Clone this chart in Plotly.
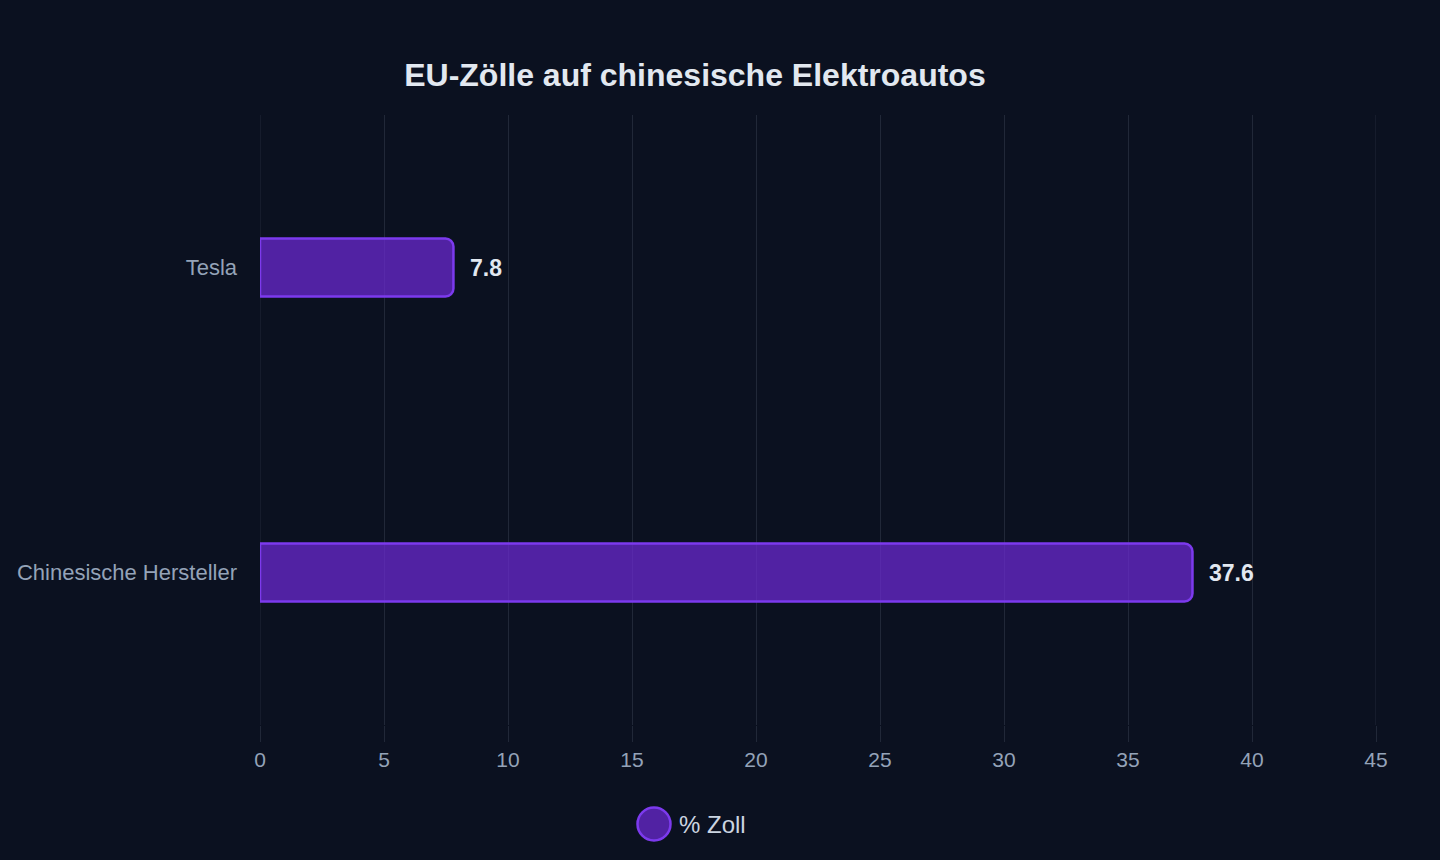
import plotly.graph_objects as go

categories = ["Chinesische Hersteller", "Tesla"]
values = [37.6, 7.8]
series_name = "% Zoll"
title_text = "EU-Zölle auf chinesische Elektroautos"
x_ticks = [0, 5, 10, 15, 20, 25, 30, 35, 40, 45]

BG = "#0b1120"
GRID = "rgba(148,163,184,0.16)"
FILL = "rgba(108,42,214,0.72)"
EDGE = "#7c3aed"
FONT = "Liberation Sans, Arial, sans-serif"

fig = go.Figure()
fig.add_trace(go.Bar(
    y=categories, x=values, orientation="h", name=series_name,
    width=0.19,
    marker=dict(color=FILL, line=dict(color=EDGE, width=2.5), cornerradius=8),
    showlegend=False, hoverinfo="x+y",
))

for c, v in zip(categories, values):
    fig.add_annotation(x=v, y=c, xref="x", yref="y", text=f"<b>{v}</b>",
                       xanchor="left", yanchor="middle", xshift=15,
                       showarrow=False,
                       font=dict(family=FONT, size=23, color="#e2e8f0"))

# grid lines at the range ends (plotly omits them at the plot edges)
for t in (x_ticks[0], x_ticks[-1]):
    fig.add_shape(type="line", xref="x", yref="paper", x0=t, x1=t, y0=0, y1=1,
                  line=dict(color=GRID, width=1), layer="below")

fig.update_layout(
    width=1440, height=860,
    paper_bgcolor=BG, plot_bgcolor=BG,
    margin=dict(l=260, r=64, t=115, b=135),
    font=dict(family=FONT, color="#94a3b8"),
    title=dict(text=f"<b>{title_text}</b>", x=0.4826, xanchor="center",
               y=1 - 75 / 860, yanchor="middle",
               font=dict(family=FONT, size=32, color="#e2e8f0")),
    xaxis=dict(range=[x_ticks[0], x_ticks[-1]], tickvals=x_ticks, showgrid=True,
               gridcolor=GRID, gridwidth=1, zeroline=False, showline=False,
               ticks="outside", ticklen=16, tickcolor=GRID,
               tickfont=dict(family=FONT, size=21, color="#94a3b8")),
    yaxis=dict(showgrid=False, zeroline=False, showline=False, ticks="",
               ticklabelstandoff=22,
               tickfont=dict(family=FONT, size=22, color="#94a3b8")),
    showlegend=False,
)

# custom legend: large circle marker + label
cx = (654 - 260) / 1116
cy = (725 - 824) / 610
fig.add_shape(type="circle", xref="paper", yref="paper",
              xsizemode="pixel", ysizemode="pixel", xanchor=cx, yanchor=cy,
              x0=-16.5, x1=16.5, y0=-16.5, y1=16.5,
              fillcolor=FILL, line=dict(color=EDGE, width=2.5))
fig.add_annotation(text=series_name, xref="paper", yref="paper",
                   x=(677 - 260) / 1116, y=cy, xanchor="left", yanchor="middle",
                   showarrow=False,
                   font=dict(family=FONT, size=24, color="#cbd5e1"))

fig.write_html("out.html")
